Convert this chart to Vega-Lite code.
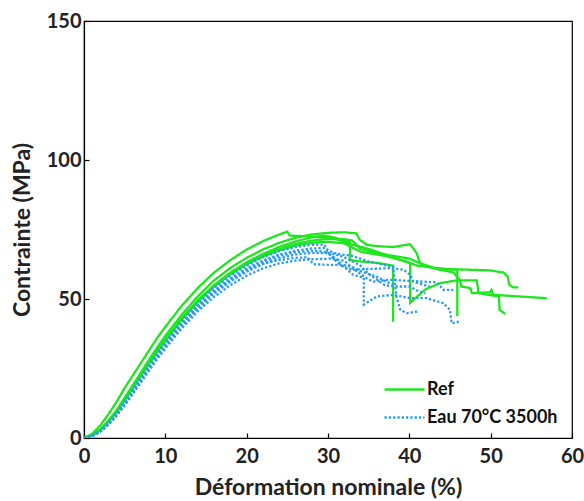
{
  "$schema": "https://vega.github.io/schema/vega-lite/v6.json",
  "width": 488,
  "height": 417,
  "autosize": "none",
  "padding": {"left": 84, "top": 21, "right": 12, "bottom": 63},
  "background": "white",
  "config": {
    "view": {"stroke": "black", "strokeWidth": 1.2},
    "font": "Lato",
    "axis": {
      "grid": false,
      "domainColor": "black",
      "domainWidth": 1.2,
      "tickColor": "black",
      "tickWidth": 1.2,
      "labelFlush": false,
      "labelFont": "Lato",
      "labelFontWeight": "bold",
      "labelFontSize": 20,
      "labelColor": "#222",
      "titleFont": "Lato",
      "titleFontWeight": "bold",
      "titleFontSize": 23,
      "titleColor": "#222"
    }
  },
  "data": {"values": [
    {"s":"Ref","c":"G1","x":0,"y":0},{"s":"Ref","c":"G1","x":1,"y":1.5},{"s":"Ref","c":"G1","x":2,"y":4.5},{"s":"Ref","c":"G1","x":3,"y":8.5},{"s":"Ref","c":"G1","x":4,"y":13},{"s":"Ref","c":"G1","x":5,"y":18},{"s":"Ref","c":"G1","x":6,"y":22.5},{"s":"Ref","c":"G1","x":7,"y":27},{"s":"Ref","c":"G1","x":8,"y":31.5},{"s":"Ref","c":"G1","x":9,"y":36},{"s":"Ref","c":"G1","x":10,"y":40},{"s":"Ref","c":"G1","x":12,"y":47.5},{"s":"Ref","c":"G1","x":14,"y":54},{"s":"Ref","c":"G1","x":16,"y":59.5},{"s":"Ref","c":"G1","x":18,"y":64},{"s":"Ref","c":"G1","x":20,"y":67.8},{"s":"Ref","c":"G1","x":22,"y":70.8},{"s":"Ref","c":"G1","x":24,"y":73.2},{"s":"Ref","c":"G1","x":25,"y":74.2},{"s":"Ref","c":"G1","x":25.3,"y":72.8},{"s":"Ref","c":"G1","x":27,"y":72.6},{"s":"Ref","c":"G1","x":29,"y":72.2},{"s":"Ref","c":"G1","x":31,"y":71.5},{"s":"Ref","c":"G1","x":32.7,"y":70.5},{"s":"Ref","c":"G1","x":32.7,"y":64},{"s":"Ref","c":"G1","x":34,"y":63.5},{"s":"Ref","c":"G1","x":36,"y":63},{"s":"Ref","c":"G1","x":38,"y":62},{"s":"Ref","c":"G1","x":38,"y":41.8},

    {"s":"Ref","c":"G2","x":0,"y":0},{"s":"Ref","c":"G2","x":1,"y":1},{"s":"Ref","c":"G2","x":2,"y":3.1},{"s":"Ref","c":"G2","x":3,"y":6.2},{"s":"Ref","c":"G2","x":4,"y":10},{"s":"Ref","c":"G2","x":5,"y":14.5},{"s":"Ref","c":"G2","x":6,"y":19},{"s":"Ref","c":"G2","x":7,"y":23.6},{"s":"Ref","c":"G2","x":8,"y":28.2},{"s":"Ref","c":"G2","x":9,"y":32.6},{"s":"Ref","c":"G2","x":10,"y":36.8},{"s":"Ref","c":"G2","x":12,"y":44.3},{"s":"Ref","c":"G2","x":14,"y":51},{"s":"Ref","c":"G2","x":16,"y":56.7},{"s":"Ref","c":"G2","x":18,"y":61.2},{"s":"Ref","c":"G2","x":20,"y":64.8},{"s":"Ref","c":"G2","x":22,"y":67.8},{"s":"Ref","c":"G2","x":24,"y":70.2},{"s":"Ref","c":"G2","x":26,"y":72},{"s":"Ref","c":"G2","x":28,"y":73.2},{"s":"Ref","c":"G2","x":30,"y":73.8},{"s":"Ref","c":"G2","x":32,"y":74},{"s":"Ref","c":"G2","x":33.5,"y":73.6},{"s":"Ref","c":"G2","x":33.9,"y":71.3},{"s":"Ref","c":"G2","x":34.8,"y":69.5},{"s":"Ref","c":"G2","x":36,"y":69},{"s":"Ref","c":"G2","x":38,"y":68.7},{"s":"Ref","c":"G2","x":40.1,"y":69.7},{"s":"Ref","c":"G2","x":40.9,"y":66.5},{"s":"Ref","c":"G2","x":41.3,"y":62.9},{"s":"Ref","c":"G2","x":42.5,"y":61.7},{"s":"Ref","c":"G2","x":43.4,"y":60.8},{"s":"Ref","c":"G2","x":46.6,"y":60.6},{"s":"Ref","c":"G2","x":49.9,"y":60.3},{"s":"Ref","c":"G2","x":51.6,"y":59.5},{"s":"Ref","c":"G2","x":52.1,"y":58},{"s":"Ref","c":"G2","x":52.3,"y":55},{"s":"Ref","c":"G2","x":52.8,"y":54.2},{"s":"Ref","c":"G2","x":53.4,"y":54.2},

    {"s":"Ref","c":"G3","x":0,"y":0},{"s":"Ref","c":"G3","x":1,"y":0.9},{"s":"Ref","c":"G3","x":2,"y":2.9},{"s":"Ref","c":"G3","x":3,"y":5.9},{"s":"Ref","c":"G3","x":4,"y":9.5},{"s":"Ref","c":"G3","x":5,"y":13.7},{"s":"Ref","c":"G3","x":6,"y":18.2},{"s":"Ref","c":"G3","x":7,"y":22.7},{"s":"Ref","c":"G3","x":8,"y":27.1},{"s":"Ref","c":"G3","x":9,"y":31.5},{"s":"Ref","c":"G3","x":10,"y":35.5},{"s":"Ref","c":"G3","x":12,"y":43},{"s":"Ref","c":"G3","x":14,"y":49.5},{"s":"Ref","c":"G3","x":16,"y":55},{"s":"Ref","c":"G3","x":18,"y":59.5},{"s":"Ref","c":"G3","x":20,"y":63.2},{"s":"Ref","c":"G3","x":22,"y":66.2},{"s":"Ref","c":"G3","x":24,"y":68.7},{"s":"Ref","c":"G3","x":26,"y":70.7},{"s":"Ref","c":"G3","x":28,"y":72.2},{"s":"Ref","c":"G3","x":29.5,"y":72.8},{"s":"Ref","c":"G3","x":31,"y":72},{"s":"Ref","c":"G3","x":32,"y":70.5},{"s":"Ref","c":"G3","x":33,"y":69.5},{"s":"Ref","c":"G3","x":35,"y":68},{"s":"Ref","c":"G3","x":37,"y":66},{"s":"Ref","c":"G3","x":39,"y":64},{"s":"Ref","c":"G3","x":40.1,"y":63},{"s":"Ref","c":"G3","x":40.1,"y":48.6},{"s":"Ref","c":"G3","x":41,"y":51},{"s":"Ref","c":"G3","x":42,"y":53.5},{"s":"Ref","c":"G3","x":43.8,"y":55.7},{"s":"Ref","c":"G3","x":45.8,"y":56.7},{"s":"Ref","c":"G3","x":48.3,"y":56.7},{"s":"Ref","c":"G3","x":48.5,"y":52.1},{"s":"Ref","c":"G3","x":51,"y":50.9},{"s":"Ref","c":"G3","x":51.1,"y":46.1},{"s":"Ref","c":"G3","x":51.8,"y":44.6},

    {"s":"Ref","c":"G4","x":0,"y":0},{"s":"Ref","c":"G4","x":1,"y":0.9},{"s":"Ref","c":"G4","x":2,"y":2.8},{"s":"Ref","c":"G4","x":3,"y":5.8},{"s":"Ref","c":"G4","x":4,"y":9.4},{"s":"Ref","c":"G4","x":5,"y":13.6},{"s":"Ref","c":"G4","x":6,"y":18},{"s":"Ref","c":"G4","x":7,"y":22.4},{"s":"Ref","c":"G4","x":8,"y":26.8},{"s":"Ref","c":"G4","x":9,"y":31},{"s":"Ref","c":"G4","x":10,"y":35},{"s":"Ref","c":"G4","x":12,"y":42.5},{"s":"Ref","c":"G4","x":14,"y":49},{"s":"Ref","c":"G4","x":16,"y":54.5},{"s":"Ref","c":"G4","x":18,"y":59},{"s":"Ref","c":"G4","x":20,"y":62.7},{"s":"Ref","c":"G4","x":22,"y":65.7},{"s":"Ref","c":"G4","x":24,"y":68},{"s":"Ref","c":"G4","x":26,"y":69.8},{"s":"Ref","c":"G4","x":28,"y":71},{"s":"Ref","c":"G4","x":30,"y":71.6},{"s":"Ref","c":"G4","x":32,"y":71.5},{"s":"Ref","c":"G4","x":33,"y":71},{"s":"Ref","c":"G4","x":34,"y":68},{"s":"Ref","c":"G4","x":36,"y":66.5},{"s":"Ref","c":"G4","x":38,"y":65.5},{"s":"Ref","c":"G4","x":40,"y":64.5},{"s":"Ref","c":"G4","x":42,"y":62},{"s":"Ref","c":"G4","x":43.8,"y":60.5},{"s":"Ref","c":"G4","x":45.4,"y":59.6},{"s":"Ref","c":"G4","x":46.2,"y":56.9},{"s":"Ref","c":"G4","x":46.4,"y":54.5},{"s":"Ref","c":"G4","x":47.5,"y":53.9},{"s":"Ref","c":"G4","x":47.7,"y":52.1},{"s":"Ref","c":"G4","x":49.9,"y":52.4},{"s":"Ref","c":"G4","x":50.1,"y":53.3},{"s":"Ref","c":"G4","x":50.3,"y":51.5},{"s":"Ref","c":"G4","x":53,"y":51},{"s":"Ref","c":"G4","x":56.9,"y":50.3},

    {"s":"Ref","c":"G5","x":0,"y":0},{"s":"Ref","c":"G5","x":1,"y":0.95},{"s":"Ref","c":"G5","x":2,"y":3},{"s":"Ref","c":"G5","x":3,"y":6},{"s":"Ref","c":"G5","x":4,"y":9.7},{"s":"Ref","c":"G5","x":5,"y":14},{"s":"Ref","c":"G5","x":6,"y":18.4},{"s":"Ref","c":"G5","x":7,"y":22.8},{"s":"Ref","c":"G5","x":8,"y":27.2},{"s":"Ref","c":"G5","x":9,"y":31.5},{"s":"Ref","c":"G5","x":10,"y":35.6},{"s":"Ref","c":"G5","x":12,"y":43},{"s":"Ref","c":"G5","x":14,"y":49.5},{"s":"Ref","c":"G5","x":16,"y":54.8},{"s":"Ref","c":"G5","x":18,"y":59},{"s":"Ref","c":"G5","x":20,"y":62.5},{"s":"Ref","c":"G5","x":22,"y":65.3},{"s":"Ref","c":"G5","x":24,"y":67.5},{"s":"Ref","c":"G5","x":26,"y":69.2},{"s":"Ref","c":"G5","x":28,"y":70.2},{"s":"Ref","c":"G5","x":30,"y":70.6},{"s":"Ref","c":"G5","x":32,"y":70},{"s":"Ref","c":"G5","x":34,"y":67},{"s":"Ref","c":"G5","x":35,"y":66.5},{"s":"Ref","c":"G5","x":37,"y":65.5},{"s":"Ref","c":"G5","x":39,"y":64},{"s":"Ref","c":"G5","x":41,"y":62},{"s":"Ref","c":"G5","x":43,"y":61.2},{"s":"Ref","c":"G5","x":45.9,"y":60.5},{"s":"Ref","c":"G5","x":45.9,"y":43.8},

    {"s":"Eau 70°C 3500h","c":"B1","x":0,"y":0},{"s":"Eau 70°C 3500h","c":"B1","x":1,"y":0.8},{"s":"Eau 70°C 3500h","c":"B1","x":2,"y":2.6},{"s":"Eau 70°C 3500h","c":"B1","x":3,"y":5.4},{"s":"Eau 70°C 3500h","c":"B1","x":4,"y":8.9},{"s":"Eau 70°C 3500h","c":"B1","x":5,"y":13},{"s":"Eau 70°C 3500h","c":"B1","x":6,"y":17.4},{"s":"Eau 70°C 3500h","c":"B1","x":7,"y":21.8},{"s":"Eau 70°C 3500h","c":"B1","x":8,"y":26.2},{"s":"Eau 70°C 3500h","c":"B1","x":9,"y":30.5},{"s":"Eau 70°C 3500h","c":"B1","x":10,"y":34.5},{"s":"Eau 70°C 3500h","c":"B1","x":12,"y":42},{"s":"Eau 70°C 3500h","c":"B1","x":14,"y":48.5},{"s":"Eau 70°C 3500h","c":"B1","x":16,"y":54},{"s":"Eau 70°C 3500h","c":"B1","x":18,"y":58.4},{"s":"Eau 70°C 3500h","c":"B1","x":20,"y":62},{"s":"Eau 70°C 3500h","c":"B1","x":22,"y":65},{"s":"Eau 70°C 3500h","c":"B1","x":24,"y":67.2},{"s":"Eau 70°C 3500h","c":"B1","x":26,"y":68.7},{"s":"Eau 70°C 3500h","c":"B1","x":28,"y":69.5},{"s":"Eau 70°C 3500h","c":"B1","x":29.5,"y":69.6},{"s":"Eau 70°C 3500h","c":"B1","x":30,"y":67.5},{"s":"Eau 70°C 3500h","c":"B1","x":31,"y":66.3},{"s":"Eau 70°C 3500h","c":"B1","x":33,"y":65.5},{"s":"Eau 70°C 3500h","c":"B1","x":35,"y":63.5},{"s":"Eau 70°C 3500h","c":"B1","x":37,"y":62.2},{"s":"Eau 70°C 3500h","c":"B1","x":38,"y":61.7},{"s":"Eau 70°C 3500h","c":"B1","x":38.4,"y":51},{"s":"Eau 70°C 3500h","c":"B1","x":38.9,"y":46.1},{"s":"Eau 70°C 3500h","c":"B1","x":39.7,"y":44.9},{"s":"Eau 70°C 3500h","c":"B1","x":41,"y":45.5},

    {"s":"Eau 70°C 3500h","c":"B2","x":0,"y":0},{"s":"Eau 70°C 3500h","c":"B2","x":1,"y":0.8},{"s":"Eau 70°C 3500h","c":"B2","x":2,"y":2.5},{"s":"Eau 70°C 3500h","c":"B2","x":3,"y":5.2},{"s":"Eau 70°C 3500h","c":"B2","x":4,"y":8.6},{"s":"Eau 70°C 3500h","c":"B2","x":5,"y":12.6},{"s":"Eau 70°C 3500h","c":"B2","x":6,"y":16.9},{"s":"Eau 70°C 3500h","c":"B2","x":7,"y":21.3},{"s":"Eau 70°C 3500h","c":"B2","x":8,"y":25.6},{"s":"Eau 70°C 3500h","c":"B2","x":9,"y":29.8},{"s":"Eau 70°C 3500h","c":"B2","x":10,"y":33.8},{"s":"Eau 70°C 3500h","c":"B2","x":12,"y":41.2},{"s":"Eau 70°C 3500h","c":"B2","x":14,"y":47.6},{"s":"Eau 70°C 3500h","c":"B2","x":16,"y":53},{"s":"Eau 70°C 3500h","c":"B2","x":18,"y":57.4},{"s":"Eau 70°C 3500h","c":"B2","x":20,"y":61},{"s":"Eau 70°C 3500h","c":"B2","x":22,"y":63.8},{"s":"Eau 70°C 3500h","c":"B2","x":24,"y":66},{"s":"Eau 70°C 3500h","c":"B2","x":26,"y":67.4},{"s":"Eau 70°C 3500h","c":"B2","x":28,"y":68.2},{"s":"Eau 70°C 3500h","c":"B2","x":29.5,"y":68.3},{"s":"Eau 70°C 3500h","c":"B2","x":30.5,"y":65},{"s":"Eau 70°C 3500h","c":"B2","x":31.6,"y":62},{"s":"Eau 70°C 3500h","c":"B2","x":32.9,"y":60.5},{"s":"Eau 70°C 3500h","c":"B2","x":35,"y":60.8},{"s":"Eau 70°C 3500h","c":"B2","x":37.6,"y":61.1},{"s":"Eau 70°C 3500h","c":"B2","x":39.3,"y":60.5},{"s":"Eau 70°C 3500h","c":"B2","x":40.1,"y":58.7},{"s":"Eau 70°C 3500h","c":"B2","x":40.5,"y":56.3},{"s":"Eau 70°C 3500h","c":"B2","x":41.7,"y":55.1},{"s":"Eau 70°C 3500h","c":"B2","x":42.5,"y":54.5},

    {"s":"Eau 70°C 3500h","c":"B3","x":0,"y":0},{"s":"Eau 70°C 3500h","c":"B3","x":1,"y":0.7},{"s":"Eau 70°C 3500h","c":"B3","x":2,"y":2.3},{"s":"Eau 70°C 3500h","c":"B3","x":3,"y":4.9},{"s":"Eau 70°C 3500h","c":"B3","x":4,"y":8.2},{"s":"Eau 70°C 3500h","c":"B3","x":5,"y":12.1},{"s":"Eau 70°C 3500h","c":"B3","x":6,"y":16.3},{"s":"Eau 70°C 3500h","c":"B3","x":7,"y":20.6},{"s":"Eau 70°C 3500h","c":"B3","x":8,"y":24.9},{"s":"Eau 70°C 3500h","c":"B3","x":9,"y":29},{"s":"Eau 70°C 3500h","c":"B3","x":10,"y":33},{"s":"Eau 70°C 3500h","c":"B3","x":12,"y":40.3},{"s":"Eau 70°C 3500h","c":"B3","x":14,"y":46.6},{"s":"Eau 70°C 3500h","c":"B3","x":16,"y":52},{"s":"Eau 70°C 3500h","c":"B3","x":18,"y":56.3},{"s":"Eau 70°C 3500h","c":"B3","x":20,"y":59.8},{"s":"Eau 70°C 3500h","c":"B3","x":22,"y":62.6},{"s":"Eau 70°C 3500h","c":"B3","x":24,"y":64.7},{"s":"Eau 70°C 3500h","c":"B3","x":26,"y":66},{"s":"Eau 70°C 3500h","c":"B3","x":28,"y":66.6},{"s":"Eau 70°C 3500h","c":"B3","x":30,"y":66.5},{"s":"Eau 70°C 3500h","c":"B3","x":31,"y":64.5},{"s":"Eau 70°C 3500h","c":"B3","x":32,"y":61.5},{"s":"Eau 70°C 3500h","c":"B3","x":33.1,"y":58.7},{"s":"Eau 70°C 3500h","c":"B3","x":34.4,"y":57.6},{"s":"Eau 70°C 3500h","c":"B3","x":34.4,"y":48},{"s":"Eau 70°C 3500h","c":"B3","x":36,"y":50.9},{"s":"Eau 70°C 3500h","c":"B3","x":38,"y":51.5},{"s":"Eau 70°C 3500h","c":"B3","x":40.1,"y":50.3},{"s":"Eau 70°C 3500h","c":"B3","x":42.1,"y":50.3},{"s":"Eau 70°C 3500h","c":"B3","x":44.2,"y":48.5},{"s":"Eau 70°C 3500h","c":"B3","x":45,"y":46.1},{"s":"Eau 70°C 3500h","c":"B3","x":45.2,"y":41.3},{"s":"Eau 70°C 3500h","c":"B3","x":46.2,"y":41.9},

    {"s":"Eau 70°C 3500h","c":"B4","x":0,"y":0},{"s":"Eau 70°C 3500h","c":"B4","x":1,"y":0.7},{"s":"Eau 70°C 3500h","c":"B4","x":2,"y":2.2},{"s":"Eau 70°C 3500h","c":"B4","x":3,"y":4.7},{"s":"Eau 70°C 3500h","c":"B4","x":4,"y":7.9},{"s":"Eau 70°C 3500h","c":"B4","x":5,"y":11.7},{"s":"Eau 70°C 3500h","c":"B4","x":6,"y":15.8},{"s":"Eau 70°C 3500h","c":"B4","x":7,"y":20},{"s":"Eau 70°C 3500h","c":"B4","x":8,"y":24.2},{"s":"Eau 70°C 3500h","c":"B4","x":9,"y":28.3},{"s":"Eau 70°C 3500h","c":"B4","x":10,"y":32.2},{"s":"Eau 70°C 3500h","c":"B4","x":12,"y":39.4},{"s":"Eau 70°C 3500h","c":"B4","x":14,"y":45.6},{"s":"Eau 70°C 3500h","c":"B4","x":16,"y":50.8},{"s":"Eau 70°C 3500h","c":"B4","x":18,"y":55},{"s":"Eau 70°C 3500h","c":"B4","x":20,"y":58.4},{"s":"Eau 70°C 3500h","c":"B4","x":22,"y":61},{"s":"Eau 70°C 3500h","c":"B4","x":24,"y":62.8},{"s":"Eau 70°C 3500h","c":"B4","x":26,"y":63.8},{"s":"Eau 70°C 3500h","c":"B4","x":28,"y":64.3},{"s":"Eau 70°C 3500h","c":"B4","x":30.2,"y":64.5},{"s":"Eau 70°C 3500h","c":"B4","x":32,"y":63.8},{"s":"Eau 70°C 3500h","c":"B4","x":33,"y":61},{"s":"Eau 70°C 3500h","c":"B4","x":35,"y":57},{"s":"Eau 70°C 3500h","c":"B4","x":35.6,"y":56.3},{"s":"Eau 70°C 3500h","c":"B4","x":37.6,"y":56.9},{"s":"Eau 70°C 3500h","c":"B4","x":40,"y":56.5},{"s":"Eau 70°C 3500h","c":"B4","x":43.4,"y":56},{"s":"Eau 70°C 3500h","c":"B4","x":44.2,"y":53.3},{"s":"Eau 70°C 3500h","c":"B4","x":45.4,"y":53.3},

    {"s":"Eau 70°C 3500h","c":"B5","x":0,"y":0},{"s":"Eau 70°C 3500h","c":"B5","x":1,"y":0.75},{"s":"Eau 70°C 3500h","c":"B5","x":2,"y":2.4},{"s":"Eau 70°C 3500h","c":"B5","x":3,"y":5},{"s":"Eau 70°C 3500h","c":"B5","x":4,"y":8.4},{"s":"Eau 70°C 3500h","c":"B5","x":5,"y":12.3},{"s":"Eau 70°C 3500h","c":"B5","x":6,"y":16.6},{"s":"Eau 70°C 3500h","c":"B5","x":7,"y":21},{"s":"Eau 70°C 3500h","c":"B5","x":8,"y":25.3},{"s":"Eau 70°C 3500h","c":"B5","x":9,"y":29.4},{"s":"Eau 70°C 3500h","c":"B5","x":10,"y":33.4},{"s":"Eau 70°C 3500h","c":"B5","x":12,"y":40.8},{"s":"Eau 70°C 3500h","c":"B5","x":14,"y":47.2},{"s":"Eau 70°C 3500h","c":"B5","x":16,"y":52.6},{"s":"Eau 70°C 3500h","c":"B5","x":18,"y":57},{"s":"Eau 70°C 3500h","c":"B5","x":20,"y":60.6},{"s":"Eau 70°C 3500h","c":"B5","x":22,"y":63.4},{"s":"Eau 70°C 3500h","c":"B5","x":24,"y":65.5},{"s":"Eau 70°C 3500h","c":"B5","x":26,"y":66.8},{"s":"Eau 70°C 3500h","c":"B5","x":28,"y":67.3},{"s":"Eau 70°C 3500h","c":"B5","x":29,"y":67.2},{"s":"Eau 70°C 3500h","c":"B5","x":31,"y":66},{"s":"Eau 70°C 3500h","c":"B5","x":32,"y":65},{"s":"Eau 70°C 3500h","c":"B5","x":34,"y":62},{"s":"Eau 70°C 3500h","c":"B5","x":35,"y":59},{"s":"Eau 70°C 3500h","c":"B5","x":36,"y":57},{"s":"Eau 70°C 3500h","c":"B5","x":37,"y":55},{"s":"Eau 70°C 3500h","c":"B5","x":38,"y":54.5},{"s":"Eau 70°C 3500h","c":"B5","x":40,"y":54.5},{"s":"Eau 70°C 3500h","c":"B5","x":41,"y":53},{"s":"Eau 70°C 3500h","c":"B5","x":42,"y":52},

    {"s":"Eau 70°C 3500h","c":"B6","x":0,"y":0},{"s":"Eau 70°C 3500h","c":"B6","x":1,"y":0.8},{"s":"Eau 70°C 3500h","c":"B6","x":2,"y":2.5},{"s":"Eau 70°C 3500h","c":"B6","x":3,"y":5.3},{"s":"Eau 70°C 3500h","c":"B6","x":4,"y":8.7},{"s":"Eau 70°C 3500h","c":"B6","x":5,"y":12.7},{"s":"Eau 70°C 3500h","c":"B6","x":6,"y":17},{"s":"Eau 70°C 3500h","c":"B6","x":7,"y":21.4},{"s":"Eau 70°C 3500h","c":"B6","x":8,"y":25.7},{"s":"Eau 70°C 3500h","c":"B6","x":9,"y":29.8},{"s":"Eau 70°C 3500h","c":"B6","x":10,"y":33.7},{"s":"Eau 70°C 3500h","c":"B6","x":12,"y":41},{"s":"Eau 70°C 3500h","c":"B6","x":14,"y":47.3},{"s":"Eau 70°C 3500h","c":"B6","x":16,"y":52.6},{"s":"Eau 70°C 3500h","c":"B6","x":18,"y":57},{"s":"Eau 70°C 3500h","c":"B6","x":20,"y":60.4},{"s":"Eau 70°C 3500h","c":"B6","x":22,"y":62.6},{"s":"Eau 70°C 3500h","c":"B6","x":24,"y":64},{"s":"Eau 70°C 3500h","c":"B6","x":26,"y":64.8},{"s":"Eau 70°C 3500h","c":"B6","x":27.5,"y":65},{"s":"Eau 70°C 3500h","c":"B6","x":28.2,"y":62.5},{"s":"Eau 70°C 3500h","c":"B6","x":30,"y":62.3},{"s":"Eau 70°C 3500h","c":"B6","x":32,"y":62.2},{"s":"Eau 70°C 3500h","c":"B6","x":33,"y":61.5},{"s":"Eau 70°C 3500h","c":"B6","x":34,"y":60},{"s":"Eau 70°C 3500h","c":"B6","x":36,"y":58},{"s":"Eau 70°C 3500h","c":"B6","x":37,"y":56.5},{"s":"Eau 70°C 3500h","c":"B6","x":38,"y":55}
  ]},
  "mark": {"type": "line", "strokeWidth": 2.3, "clip": true},
  "encoding": {
    "x": {
      "field": "x", "type": "quantitative",
      "scale": {"domain": [0, 60], "nice": false},
      "axis": {"values": [0, 10, 20, 30, 40, 50, 60], "tickSize": -5, "labelPadding": 13, "title": "Déformation nominale (%)", "titlePadding": 10}
    },
    "y": {
      "field": "y", "type": "quantitative",
      "scale": {"domain": [0, 150], "nice": false},
      "axis": {"values": [0, 50, 100, 150], "tickSize": -5, "labelPadding": 8, "title": "Contrainte (MPa)", "titlePadding": 12}
    },
    "detail": {"field": "c"},
    "order": {"value": null},
    "color": {
      "field": "s", "type": "nominal",
      "scale": {"domain": ["Ref", "Eau 70°C 3500h"], "range": ["#1ee61e", "#2b9bf0"]},
      "legend": {
        "title": null, "orient": "none", "legendX": 309, "legendY": 357,
        "symbolType": "M-2,0H2", "symbolSize": 400, "symbolStrokeWidth": 2.3,
        "labelFont": "Lato", "labelFontWeight": "bold", "labelFontSize": 18, "labelColor": "#111",
        "rowPadding": 7, "padding": 0, "labelOffset": 11
      }
    },
    "strokeDash": {
      "field": "s", "type": "nominal",
      "scale": {"domain": ["Ref", "Eau 70°C 3500h"], "range": [[1, 0], [2.3, 2]]},
      "legend": null
    }
  }
}
